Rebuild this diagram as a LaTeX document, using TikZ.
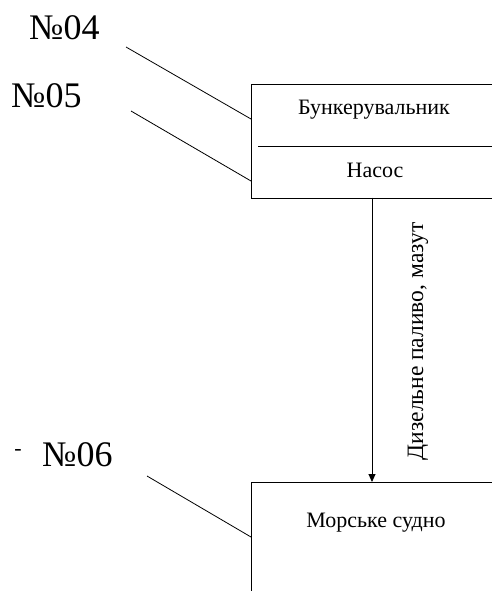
\documentclass[tikz,border=0pt]{standalone}
\usepackage{fontspec}
\setmainfont{LiberationSerif}[Extension=.ttf, UprightFont=*-Regular, BoldFont=*-Bold]
\newfontfamily\timesface{LiberationSerif}[Extension=.ttf, UprightFont=*-Regular]
\usetikzlibrary{arrows.meta}
\begin{document}
\begin{tikzpicture}[x=1pt,y=-1pt,
  unit/.style={draw, line width=1pt, rectangle, anchor=north west, inner sep=0pt},
  boxtext/.style={font=\timesface\fontsize{22}{26}\selectfont, inner sep=0pt},
  flowtext/.style={font=\timesface\fontsize{23.5}{27}\selectfont, inner sep=0pt},
  tag/.style={font=\timesface\fontsize{36}{40}\selectfont, inner sep=0pt, anchor=base west},
  leader/.style={line width=0.8pt},
  flow/.style={line width=0.9pt, -{Triangle[length=8pt,width=7pt]}}]
\useasboundingbox (0,0) rectangle (492,591);
\clip (0,0) rectangle (492,591);

% bunkering vessel with its pump
\node[unit, minimum width=280pt, minimum height=114pt] (bunker) at (251,84) {};
\coordinate (sepL) at (258,146);
\coordinate (sepR) at (bunker.east |- sepL);
\draw[line width=0.9pt] (sepL) -- (sepR);
\node[boxtext] (bunkname) at (374,110) {Бункерувальник};
\node[boxtext] (pump) at (375,170) {Насос};

% receiving ship
\node[unit, minimum width=280pt, minimum height=140pt] (ship) at (251,482) {};
\node[boxtext] (shipname) at (376,523) {Морське судно};

% fuel transfer
\coordinate (flowA) at (372,197.5);
\coordinate (flowB) at (372,482);
\draw[flow] (flowA) -- (flowB);
\node[flowtext, rotate=90, anchor=base] (fuel) at (423,341.5) {Дизельне паливо, мазут};

% reference tags
\node[tag] (n04) at (29,40) {№04};
\node[tag] (n05) at (11,107) {№05};
\node[tag] (n06) at (42,466) {№06};
\node[font=\timesface\fontsize{22}{26}\selectfont, inner sep=0pt] (dash) at (18,452) {-};

\coordinate (l04) at (126,47);
\coordinate (l05) at (131,111);
\coordinate (l06) at (147,476);
\draw[leader] (l04) -- (bunker.west |- 0,119);
\draw[leader] (l05) -- (bunker.west |- 0,181);
\draw[leader] (l06) -- (ship.west |- 0,537);
\end{tikzpicture}
\end{document}
